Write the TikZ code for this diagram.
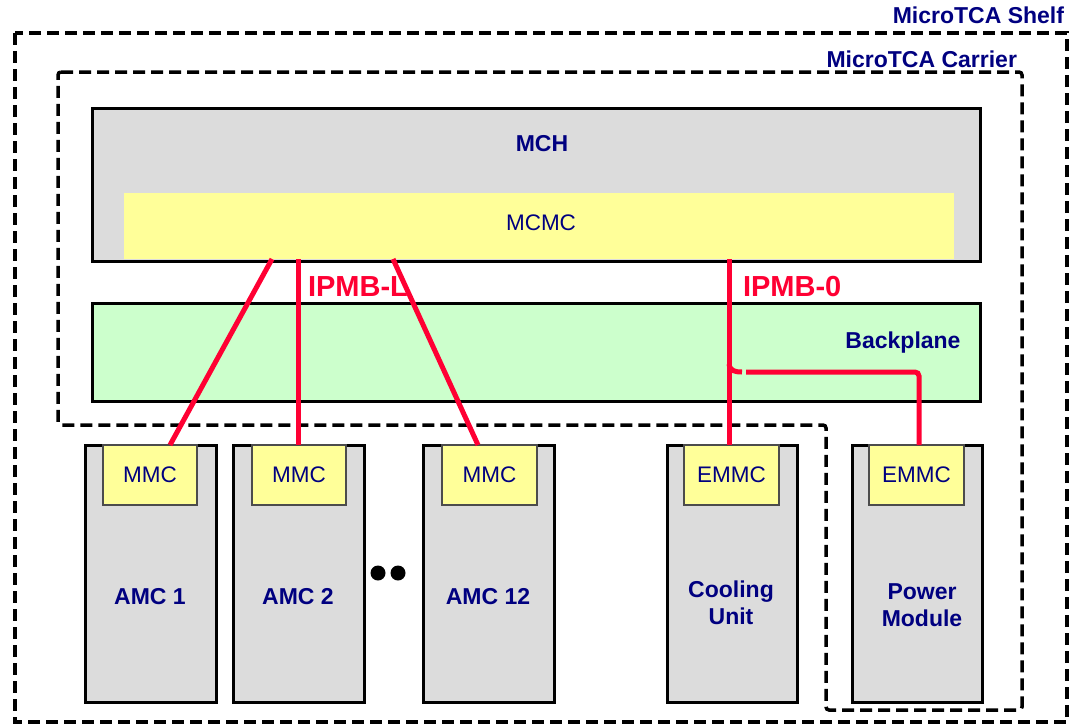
\documentclass[tikz,border=0pt]{standalone}
\usepackage{fontspec}
\setmainfont{Liberation Sans}
\usetikzlibrary{calc}
\definecolor{navy}{RGB}{0,0,128}
\definecolor{mchgrey}{RGB}{220,220,220}
\definecolor{mcyellow}{RGB}{255,255,153}
\definecolor{bpgreen}{RGB}{204,255,204}
\definecolor{ipmbred}{RGB}{255,0,51}
\begin{document}
\begin{tikzpicture}[x=1pt,y=-1pt,
  every node/.style={inner sep=0pt,outer sep=0pt},
  panel/.style={draw=black,line width=3pt,anchor=north west},
  chip/.style={draw=black!70,line width=1.5pt,fill=mcyellow,anchor=north west},
  card/.style={draw=black,line width=3pt,fill=mchgrey,anchor=north west,minimum width=131pt,minimum height=257pt},
  regtext/.style={text=navy,font=\fontsize{22.5}{26}\selectfont},
  boldtext/.style={text=navy,font=\fontsize{23}{27}\selectfont\bfseries,align=center},
  titletext/.style={text=navy,font=\fontsize{23}{26}\selectfont\bfseries,anchor=east},
  redtext/.style={text=ipmbred,font=\fontsize{29}{32}\selectfont\bfseries,anchor=west},
  bus/.style={draw=ipmbred,line width=5pt},
  border/.style={draw=black,line width=3.5pt,dash pattern=on 12pt off 6pt}
]
\useasboundingbox (0,0) rectangle (1078,725);
% shelf and carrier
\draw[border] (15,33) rectangle (1067,722);
\draw[border,rounded corners=3pt] (58,72) -- (1022,72) -- (1022,710) -- (826,710) -- (826,425) -- (58,425) -- cycle;
\node[titletext] (shelf) at (1064,15) {MicroTCA Shelf};
\node[titletext] (carrier) at (1017,59) {MicroTCA Carrier};
% MCH
\node[panel,fill=mchgrey,minimum width=888pt,minimum height=153pt] (mch) at (92,108) {};
\node[boldtext] (mchlabel) at (542,144) {MCH};
\node[chip,draw=none,minimum width=830pt,minimum height=66pt] (mcmc) at (124,193) {};
\node[regtext] (mcmclabel) at (541,223) {MCMC};
% Backplane
\node[panel,fill=bpgreen,minimum width=888pt,minimum height=98pt] (bp) at (92,303) {};
\node[boldtext] (bplabel) at (903,343) {Backplane};
% cards
\node[card] (amc1) at (85,445) {};
\node[card] (amc2) at (233,445) {};
\node[card] (amc12) at (423,445) {};
\node[card,minimum width=130pt] (cool) at (667,445) {};
\node[card,minimum width=130pt] (power) at (852,445) {};
\node[chip,minimum width=94pt,minimum height=60pt] (mmc1) at (103,445) {};
\node[chip,minimum width=94pt,minimum height=60pt] (mmc2) at (252,445) {};
\node[chip,minimum width=95pt,minimum height=60pt] (mmc12) at (442,445) {};
\node[chip,minimum width=95pt,minimum height=60pt] (emmc1) at (684,445) {};
\node[chip,minimum width=95pt,minimum height=60pt] (emmc2) at (869,445) {};
\node[regtext] (t1) at (mmc1.center) {MMC};
\node[regtext] (t2) at (mmc2.center) {MMC};
\node[regtext] (t3) at (mmc12.center) {MMC};
\node[regtext] (t4) at (emmc1.center) {EMMC};
\node[regtext] (t5) at (emmc2.center) {EMMC};
\node[boldtext] (l1) at (150,597) {AMC 1};
\node[boldtext] (l2) at (298,597) {AMC 2};
\node[boldtext] (l3) at (488,597) {AMC 12};
\node[boldtext] (l4) at (731,603) {Cooling\\Unit};
\node[boldtext] (l5) at (922,605) {Power\\Module};
\fill[black] (378,573) circle (7.5pt) (398,573) circle (7.5pt);
% IPMB-L
\draw[bus] ($(mcmc.south)+(-267,0)$) -- ($(mmc1.north)+(20,0)$);
\draw[bus] ($(mcmc.south)+(-241,0)$) -- ($(mmc2.north)+(-1,0)$);
\draw[bus] ($(mcmc.south)+(-146,0)$) -- ($(mmc12.north)+(-11.5,0)$);
\node[redtext] (ipmbl) at (308,287) {IPMB-L};
% IPMB-0
\coordinate (jn) at (729,364);
\draw[bus] ($(mcmc.south)+(190,0)$) -- (emmc1.north -| jn);
\draw[bus] (jn) .. controls (730,371) and (735,372) .. (742,372);
\draw[bus,rounded corners=4pt] (746,372) -- (919,372) -- (emmc2.north -| 919,0);
\node[redtext] (ipmb0) at (743,287) {IPMB-0};
\end{tikzpicture}
\end{document}
